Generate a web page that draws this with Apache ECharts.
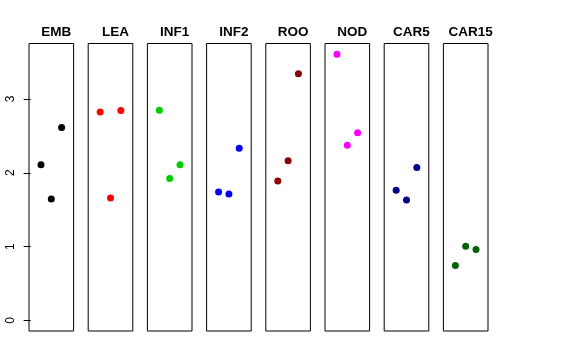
<!DOCTYPE html>
<html>
<head>
<meta charset="utf-8">
<script src="https://cdn.jsdelivr.net/npm/echarts@6/dist/echarts.min.js"></script>
<style>
html,body{margin:0;padding:0;background:#fff;}
#chart{width:576px;height:360px;}
</style>
</head>
<body>
<div id="chart"></div>
<script>
const categories = ["EMB", "LEA", "INF1", "INF2", "ROO", "NOD", "CAR5", "CAR15"];
const colors = ["#000000", "#FF0000", "#00CD00", "#0000FF", "#8B0000", "#FF00FF", "#00008B", "#006400"];
const EMB = [2.108, 1.645, 2.614];
const LEA = [2.824, 1.658, 2.843];
const INF1 = [2.847, 1.924, 2.108];
const INF2 = [1.739, 1.712, 2.334];
const ROO = [1.888, 2.162, 3.343];
const NOD = [3.608, 2.374, 2.541];
const CAR5 = [1.762, 1.631, 2.073];
const CAR15 = [0.743, 1.005, 0.959];
const yTicks = [0, 1, 2, 3];

const seriesValues = [EMB, LEA, INF1, INF2, ROO, NOD, CAR5, CAR15];

const chart = echarts.init(document.getElementById('chart'), null, {renderer: 'canvas'});

const grids = [], xAxes = [], yAxes = [], series = [], titles = [];
const panelLeft = 29, panelPitch = 59.2, panelWidth = 44.6, panelTop = 43.5, panelHeight = 287.5;
const yMin = -0.144, yMax = 3.752;

categories.forEach((cat, i) => {
  const left = panelLeft + i * panelPitch;
  grids.push({
    left: left, top: panelTop, width: panelWidth, height: panelHeight,
    show: true, borderColor: '#000', borderWidth: 1, backgroundColor: 'transparent'
  });
  xAxes.push({
    gridIndex: i, type: 'value', min: -0.16, max: 4.16,
    show: false
  });
  yAxes.push({
    gridIndex: i, type: 'value', min: yMin, max: yMax,
    show: i === 0,
    axisLine: {show: false},
    splitLine: {show: false},
    axisTick: {show: true, length: 7, lineStyle: {color: '#000', width: 1}, customValues: yTicks},
    axisLabel: {
      show: true, customValues: yTicks, rotate: 90, margin: 12,
      color: '#000', fontSize: 12, fontFamily: 'Liberation Sans, Arial, sans-serif'
    }
  });
  series.push({
    type: 'scatter', xAxisIndex: i, yAxisIndex: i,
    symbol: 'circle', symbolSize: 7,
    itemStyle: {color: colors[i], opacity: 1},
    data: seriesValues[i].map((v, k) => [k + 1, v]),
    silent: true, animation: false
  });
  titles.push({
    text: cat,
    left: left + panelWidth / 2, top: 20,
    textAlign: 'center',
    textStyle: {fontSize: 13.5, fontWeight: 'bold', color: '#000', fontFamily: 'Liberation Sans, Arial, sans-serif'}
  });
});

chart.setOption({
  animation: false,
  backgroundColor: '#fff',
  title: titles,
  grid: grids,
  xAxis: xAxes,
  yAxis: yAxes,
  series: series
});
</script>
</body>
</html>
